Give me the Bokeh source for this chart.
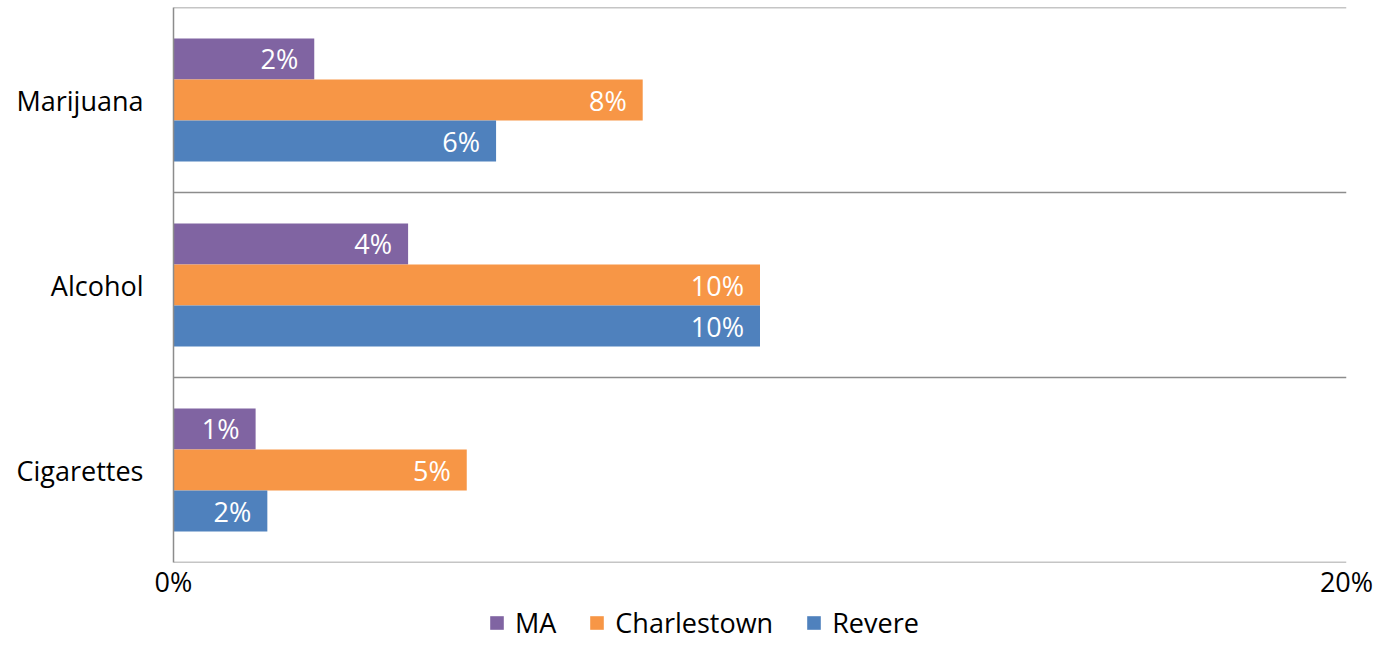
from bokeh.plotting import figure
from bokeh.layouts import column
from bokeh.models import ColumnDataSource, FactorRange, Span, Legend, LegendItem, FixedTicker
from bokeh.transform import dodge
from bokeh.core.properties import value
from bokeh.embed import file_html
from bokeh.resources import INLINE

categories = ["Marijuana", "Alcohol", "Cigarettes"]
series = ["MA", "Charlestown", "Revere"]
ma = [2.4, 4.0, 1.4]
charlestown = [8.0, 10.0, 5.0]
revere = [5.5, 10.0, 1.6]
colors = ["#8064A2", "#F79646", "#4F81BD"]
x_ticks = [0, 20]
x_tick_labels = ["0%", "20%"]

FONT = "Open Sans"
FS = "27px"

p = figure(width=1374, height=602, output_backend="svg", toolbar_location=None,
           y_range=FactorRange(factors=list(reversed(categories)), range_padding=0),
           x_range=(0, 20), min_border_left=173, min_border_right=28,
           min_border_top=7, min_border_bottom=40)
p.outline_line_color = None
p.xgrid.grid_line_color = None
p.ygrid.grid_line_color = None

data = {"cat": categories, "MA": ma, "Charlestown": charlestown, "Revere": revere}
for s in series:
    data[s + "_lbl"] = [f"{int(v + 0.5)}%" for v in data[s]]
src = ColumnDataSource(data)

offsets = [0.222, 0.0, -0.222]
for s, c, off in zip(series, colors, offsets):
    p.hbar(y=dodge("cat", off, range=p.y_range), right=s, left=0, height=0.222,
           source=src, fill_color=c, line_color=None)
    p.text(x=s, y=dodge("cat", off, range=p.y_range), text=s + "_lbl", source=src,
           text_align="right", text_baseline="middle", x_offset=-16,
           text_color="white", text_font=value(FONT), text_font_size=FS)

for k in range(len(categories) + 1):
    p.add_layout(Span(location=k, dimension="width", line_color="#8C8C8C", line_width=1.5))

p.xaxis.ticker = FixedTicker(ticks=x_ticks)
p.xaxis.major_label_overrides = {t: l for t, l in zip(x_ticks, x_tick_labels)}
p.xaxis.axis_line_color = None
p.xaxis.major_tick_line_color = None
p.xaxis.minor_tick_line_color = None
p.xaxis.major_tick_in = 0
p.xaxis.major_tick_out = 0
p.xaxis.major_label_standoff = 0
p.xaxis.major_label_text_font = FONT
p.xaxis.major_label_text_font_size = FS
p.xaxis.major_label_text_color = "black"

p.yaxis.axis_line_color = "#8C8C8C"
p.yaxis.axis_line_width = 1.5
p.yaxis.major_tick_line_color = None
p.yaxis.minor_tick_line_color = None
p.yaxis.major_tick_in = 0
p.yaxis.major_tick_out = 0
p.yaxis.major_label_standoff = 30
p.yaxis.major_label_text_font = FONT
p.yaxis.major_label_text_font_size = FS
p.yaxis.major_label_text_color = "black"

# legend strip (frame aligned with main frame in the column)
lf = figure(width=1374, height=40, output_backend="svg", toolbar_location=None,
            x_range=(0, 1), y_range=(0, 1), min_border=0)
lf.axis.visible = False
lf.grid.grid_line_color = None
lf.outline_line_color = None
items = []
for s, c in zip(series, colors):
    r = lf.hbar(y=[-5], right=[1], left=[0], height=0.1, fill_color=c, line_color=None)
    items.append(LegendItem(label=s, renderers=[r]))
legend = Legend(items=items, orientation="horizontal", location=(315, 1),
                glyph_width=17, glyph_height=17, label_standoff=10, spacing=32,
                padding=0, margin=0, border_line_color=None, background_fill_alpha=0,
                label_text_font=FONT, label_text_font_size=FS, label_text_color="black")
lf.add_layout(legend, "center")

layout = column(p, lf, spacing=0)
open("out.html", "w").write(file_html(layout, INLINE))
